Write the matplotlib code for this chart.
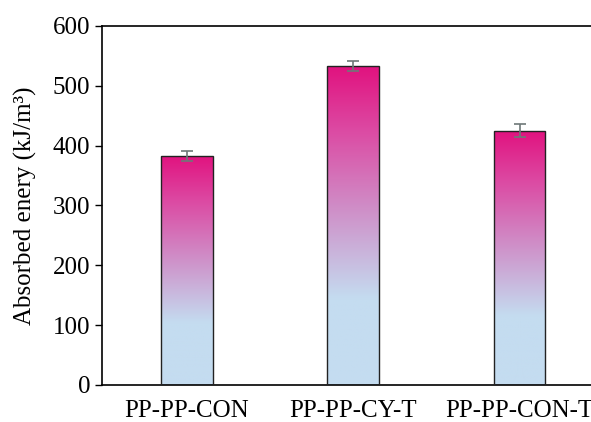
import numpy as np
import matplotlib.pyplot as plt
from matplotlib.colors import LinearSegmentedColormap

# Absorbed energy per specimen type
categories = ["PP-PP-CON", "PP-PP-CY-T", "PP-PP-CON-T"]
energy = [383, 533, 425]
energy_err = [8, 9, 11]

plt.rcParams['font.family'] = ['Liberation Serif', 'DejaVu Serif']

# light blue at the base fading into magenta at the top
grad = LinearSegmentedColormap.from_list(
    "bar_grad",
    [(0.0, "#c4dcf0"), (0.27, "#c4dcf0"), (0.55, "#cf8fc8"),
     (0.8, "#dc4aa3"), (1.0, "#e1127f")])

fig = plt.figure(figsize=(5.91, 4.22), dpi=100)
ax = fig.add_axes([0.1726, 0.0877, 0.85, 0.8507])

x = np.arange(len(categories))
width = 0.31
bars = ax.bar(x, energy, width, facecolor="none", edgecolor="#222222",
              linewidth=1.0, zorder=3)

ramp = np.linspace(0, 1, 256).reshape(-1, 1)
for b in bars:
    x0, y0 = b.get_x(), b.get_y()
    im = ax.imshow(ramp, cmap=grad, origin="lower", aspect="auto",
                   extent=[x0, x0 + b.get_width(), y0, y0 + b.get_height()],
                   zorder=2)
    im.set_clip_path(b)

ax.errorbar(x, energy, yerr=energy_err, fmt="none", ecolor="#6e7878",
            elinewidth=1.2, capsize=4, capthick=1.2, zorder=4)

ax.set_xlim(-0.51, 2.51)
ax.set_ylim(0, 600)
ax.set_yticks(range(0, 601, 100))
ax.set_xticks(x)
ax.set_xticklabels(categories)
ax.tick_params(axis="x", length=0, labelsize=18, pad=11)
ax.tick_params(axis="y", direction="out", length=5, width=1, labelsize=18)
ax.set_ylabel("Absorbed enery (kJ/m³)", fontsize=18, labelpad=11)
for s in ax.spines.values():
    s.set_linewidth(1.2)

fig.savefig("out.png", dpi=100)
